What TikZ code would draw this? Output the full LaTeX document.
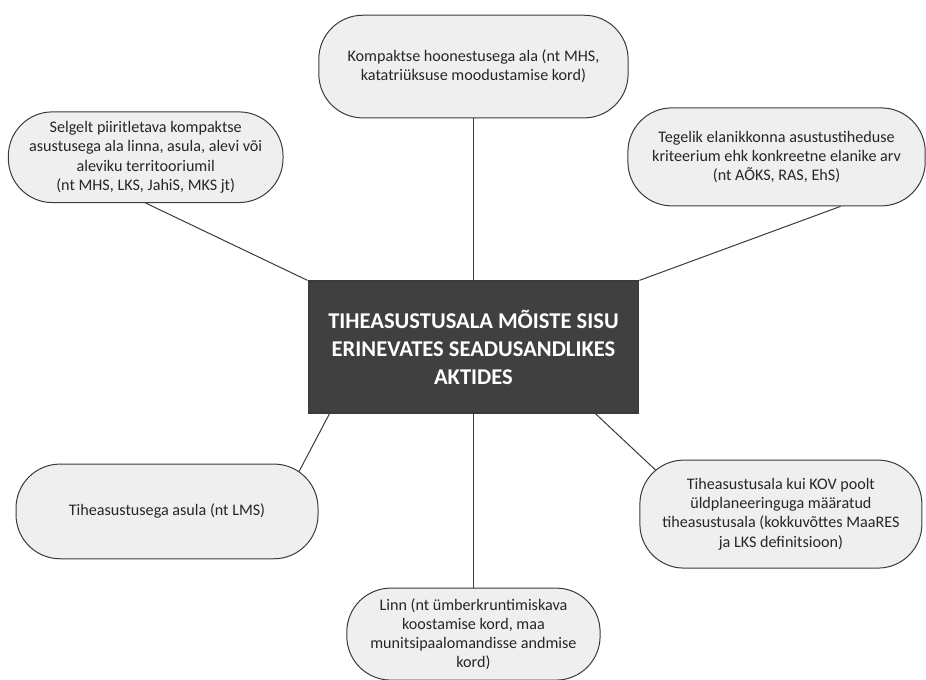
\documentclass[tikz,border=0pt]{standalone}
\usepackage{fontspec}
\setmainfont{Carlito}
\usetikzlibrary{positioning, backgrounds}
\definecolor{hubgray}{HTML}{404040}
\definecolor{boxgray}{HTML}{EFEFEF}
\definecolor{edgegray}{HTML}{3A3A3A}

\tikzset{
  hub/.style={rectangle, fill=hubgray, draw=edgegray, line width=0.9pt, text=white,
    font=\fontsize{16.9}{21}\selectfont\bfseries, align=center,
    minimum width=248pt, minimum height=99pt, inner sep=0pt},
  idea/.style={rectangle, rounded corners=33pt, fill=boxgray, draw=edgegray, line width=0.75pt,
    text=black!85, font=\fontsize{12.1}{14.4}\selectfont, align=center, inner sep=0pt},
  link/.style={draw=edgegray, line width=0.75pt}
}

\begin{document}
\begin{tikzpicture}
        \useasboundingbox (-355.1pt,-249.75pt) rectangle (339.4pt,260.25pt);

        \node[hub](hub){TIHEASUSTUSALA MÕISTE SISU\\ERINEVATES SEADUSANDLIKES\\AKTIDES};
        \node[idea, minimum width=232pt, minimum height=77pt](kompakt)[above = 121.5pt of hub]{Kompaktse hoonestusega ala (nt MHS,\\katatriüksuse moodustamise kord)};
        \node[idea, minimum width=206pt, minimum height=68pt](selgelt)[above left = 58pt and 18pt of hub]{Selgelt piiritletava kompaktse\\asustusega ala linna, asula, alevi või\\aleviku territooriumil\\(nt MHS, LKS, JahiS, MKS jt)};
        \node[idea, minimum width=223pt, minimum height=73.5pt](tegelik)[above right = 55.5pt and -9pt of hub]{Tegelik elanikkonna asustustiheduse\\kriteerium ehk konkreetne elanike arv\\(nt AÕKS, RAS, EhS)};
        \node[idea, minimum width=226.5pt, minimum height=71pt](asula)[below left = 37.5pt and -8.25pt of hub]{Tiheasustusega asula (nt LMS)};
        \node[idea, minimum width=211.5pt, minimum height=81pt](kov)[below right = 34.5pt and 0pt of hub]{Tiheasustusala kui KOV poolt\\üldplaneeringuga määratud\\tiheasustusala (kokkuvõttes MaaRES\\ja LKS definitsioon)};
        \node[idea, minimum width=190pt, minimum height=69pt](linn)[below = 130.5pt of hub]{Linn (nt ümberkruntimiskava\\koostamise kord, maa\\munitsipaalomandisse andmise\\kord)};

        \path[link]
        (hub.north) edge (kompakt.south)
        (hub.north west) edge (selgelt.south)
        (hub.north east) edge ([xshift=48pt]tegelik.south)
        (hub.south) edge (linn.north);

        \begin{scope}[on background layer]
        \path[link]
        ([xshift=16.5pt]hub.south west) edge ([xshift=-18.2pt,yshift=-12.75pt]asula.north east)
        ([xshift=-33pt]hub.south east) edge ([xshift=23.25pt,yshift=-18.3pt]kov.north west);
        \end{scope}
    \end{tikzpicture}
\end{document}
